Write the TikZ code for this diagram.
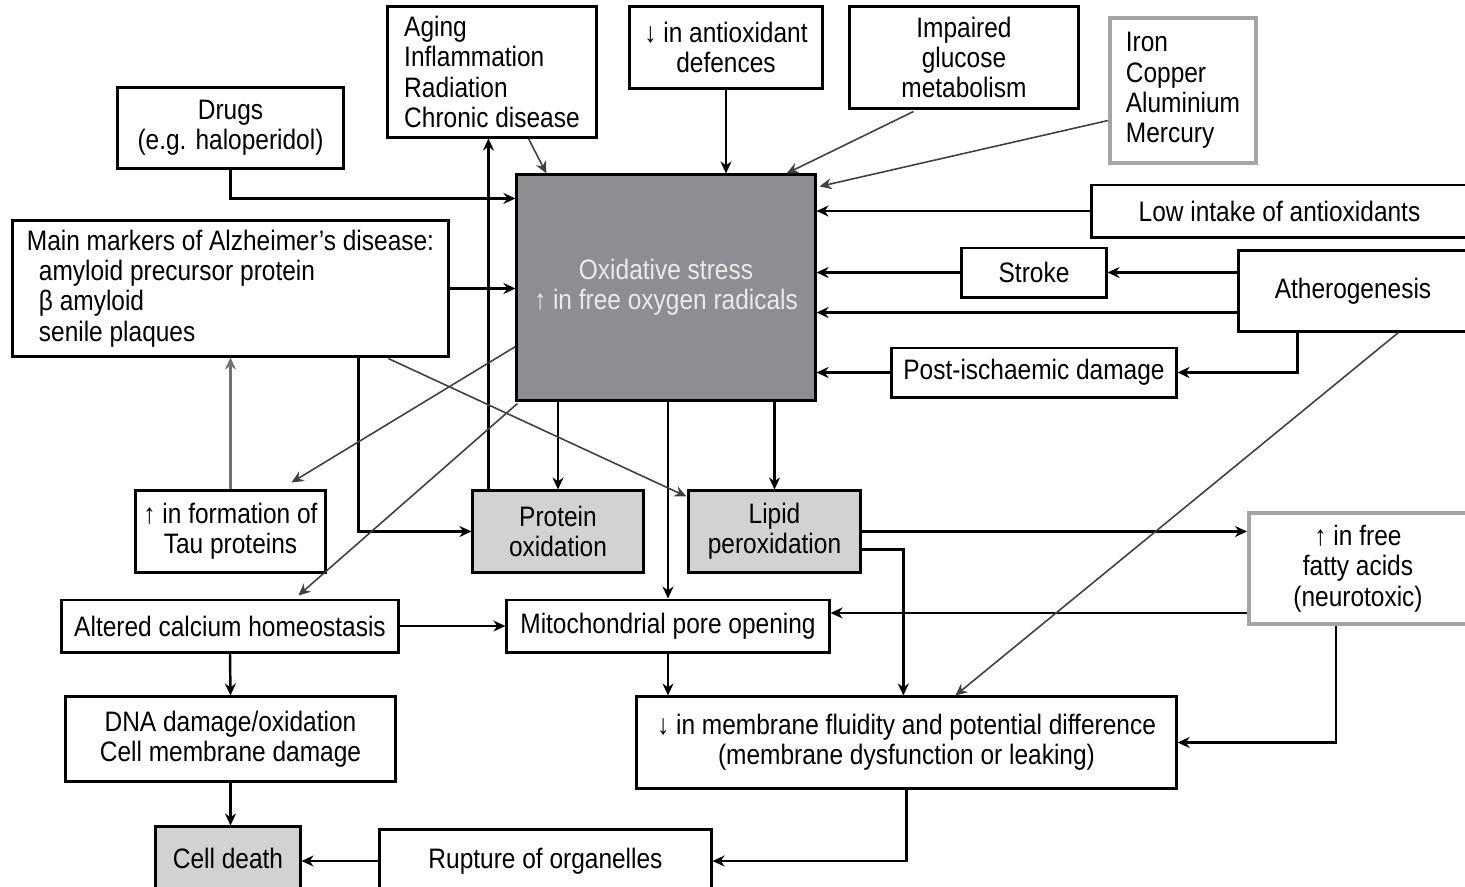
\documentclass[tikz,border=0pt]{standalone}
\usepackage{fontspec}
\setmainfont{Liberation Sans}[FakeStretch=0.87]
\usetikzlibrary{arrows.meta,calc}
\definecolor{darkfill}{RGB}{141,142,146}
\definecolor{lightfill}{RGB}{209,210,212}
\definecolor{rimgrey}{RGB}{165,165,165}

\begin{document}
\begin{tikzpicture}[x=0.01cm, y=-0.01cm, >={Stealth[length=1.2mm,width=1.1mm]},
 font=\fontsize{8}{8.6}\selectfont,
 plainbox/.style={rectangle, draw=black, line width=0.85pt, fill=white, align=center, inner sep=1pt},
 greybox/.style={plainbox, fill=lightfill},
 darkbox/.style={plainbox, fill=darkfill, text=white!92!black},
 metalbox/.style={plainbox, draw=rimgrey, line width=1.1pt},
 link/.style={->, line width=0.7pt},
 thinlink/.style={->, line width=0.45pt, black!75}, ]

\useasboundingbox (0,0) rectangle (1465,887);

% top row
\node[plainbox, minimum width=22.5mm, minimum height=8mm] (drugs) at (230.5,128) {Drugs\\(e.g. haloperidol)};
\node[plainbox, align=left, minimum width=20.8mm, minimum height=13mm] (aging) at (492,72) {Aging\\Inflammation\\Radiation\\Chronic disease};
\node[plainbox, minimum width=19.2mm, minimum height=8.1mm] (antiox) at (726,47.5) {↓ in antioxidant\\defences};
\node[plainbox, minimum width=22.8mm, minimum height=10.1mm] (glucose) at (964,57.5) {Impaired\\glucose\\metabolism};
\node[metalbox, align=left, minimum width=14.6mm, minimum height=14.5mm] (metals) at (1183,90.5) {Iron\\Copper\\Aluminium\\Mercury};

% centre
\node[darkbox, minimum width=29.8mm, minimum height=22.5mm] (oxid) at (666,287.5) {Oxidative stress\\↑ in free oxygen radicals};
\node[plainbox, minimum width=37.5mm, minimum height=5.2mm] (lowintake) at (1279.5,211) {Low intake of antioxidants};
\node[plainbox, minimum width=14.4mm, minimum height=4.9mm] (stroke) at (1034,272.5) {Stroke};
\node[plainbox, minimum width=22.8mm, minimum height=8mm] (athero) at (1353,291) {Atherogenesis};
\node[plainbox, minimum width=28.4mm, minimum height=4.9mm] (postisch) at (1034,372.5) {Post-ischaemic damage};
\node[plainbox, align=left, minimum width=43.5mm, minimum height=13.5mm] (markers) at (230.5,288.5) {Main markers of Alzheimer's disease:\\\hspace*{1.2mm}amyloid precursor protein\\\hspace*{1.2mm}β amyloid\\\hspace*{1.2mm}senile plaques};

% lower part
\node[plainbox, minimum width=18.9mm, minimum height=8.1mm] (tau) at (230.5,531.5) {↑ in formation of\\Tau proteins};
\node[greybox, minimum width=17mm, minimum height=8.1mm] (protein) at (558,531.5) {Protein\\oxidation};
\node[greybox, minimum width=17.1mm, minimum height=8.1mm] (lipid) at (774.5,531.5) {Lipid\\peroxidation};
\node[metalbox, minimum width=21.8mm, minimum height=11.1mm] (acids) at (1358,568.5) {↑ in free\\fatty acids\\(neurotoxic)};
\node[plainbox, minimum width=33.6mm, minimum height=5.2mm] (calcium) at (230,626) {Altered calcium homeostasis};
\node[plainbox, minimum width=32.2mm, minimum height=5.2mm] (mito) at (668,626) {Mitochondrial pore opening};
\node[plainbox, minimum width=32.9mm, minimum height=8.4mm] (dna) at (230.5,739) {DNA damage/oxidation\\Cell membrane damage};
\node[plainbox, minimum width=53.9mm, minimum height=9.1mm] (membrane) at (906.5,742.5) {↓ in membrane fluidity and potential difference\\(membrane dysfunction or leaking)};
\node[greybox, minimum width=14.4mm, minimum height=6.3mm] (death) at (228,858.5) {Cell death};
\node[plainbox, minimum width=33.1mm, minimum height=6.2mm] (rupture) at (545.5,861) {Rupture of organelles};

\coordinate (p1) at ($(protein.north west)+(17,0)$);
\coordinate (a1) at ($(athero.south west)+(0,-20)$);
\coordinate (f1) at ($(acids.south west)+(0,-13)$);

\path [link] (antiox.south) edge (antiox.south |- oxid.north)
             (lowintake.west) edge (lowintake.west -| oxid.east)
             (stroke.west) edge (stroke.west -| oxid.east)
             (stroke.east -| athero.west) edge (stroke.east)
             (a1) edge (a1 -| oxid.east)
             (postisch.west) edge (postisch.west -| oxid.east)
             (markers.east) edge (markers.east -| oxid.west)
             (p1) edge (p1 |- aging.south)
             (protein.north |- oxid.south) edge (protein.north)
             (mito.north |- oxid.south) edge (mito.north)
             (lipid.north |- oxid.south) edge (lipid.north)
             (lipid.east) edge (lipid.east -| acids.west)
             (f1) edge (f1 -| mito.east)
             (calcium.east) edge (mito.west)
             (calcium.south) edge (dna.north)
             (mito.south) edge (mito.south |- membrane.north)
             (dna.south) edge (dna.south |- death.north)
             (rupture.west) edge (rupture.west -| death.east);

\draw [link] (drugs.south) |- ($(oxid.north west)+(0,25)$);
\draw [link] ($(athero.south west)+(60,0)$) |- (postisch.east);
\draw [link] ($(markers.south west)+(347,0)$) |- (protein.west);
\draw [link] ($(lipid.south east)+(0,-24)$) -| ($(membrane.north west)+(268,0)$);
\draw [link] ($(acids.south west)+(89,0)$) |- (membrane.east);
\draw [link] (membrane.south) |- (rupture.east);
\draw [link, black!55] (tau.north) -- (tau.north |- markers.south);

\path [thinlink] ($(aging.south west)+(142,0)$) edge ($(oxid.north west)+(31,0)$)
                 ($(glucose.south west)+(65,2)$) edge ($(oxid.north east)+(-30,0)$)
                 ($(metals.west)+(0,30)$) edge ($(oxid.north east)+(3,13)$)
                 ($(athero.south west)+(161,0)$) edge ($(membrane.north west)+(320,0)$)
                 ($(markers.south west)+(377,1)$) edge ($(lipid.north west)+(-1,7)$)
                 ($(oxid.south west)+(0,-55)$) edge ($(tau.north east)+(-35,-7)$)
                 ($(oxid.south west)+(2,2)$) edge ($(calcium.north west)+(238,-3)$);
\end{tikzpicture}
\end{document}
